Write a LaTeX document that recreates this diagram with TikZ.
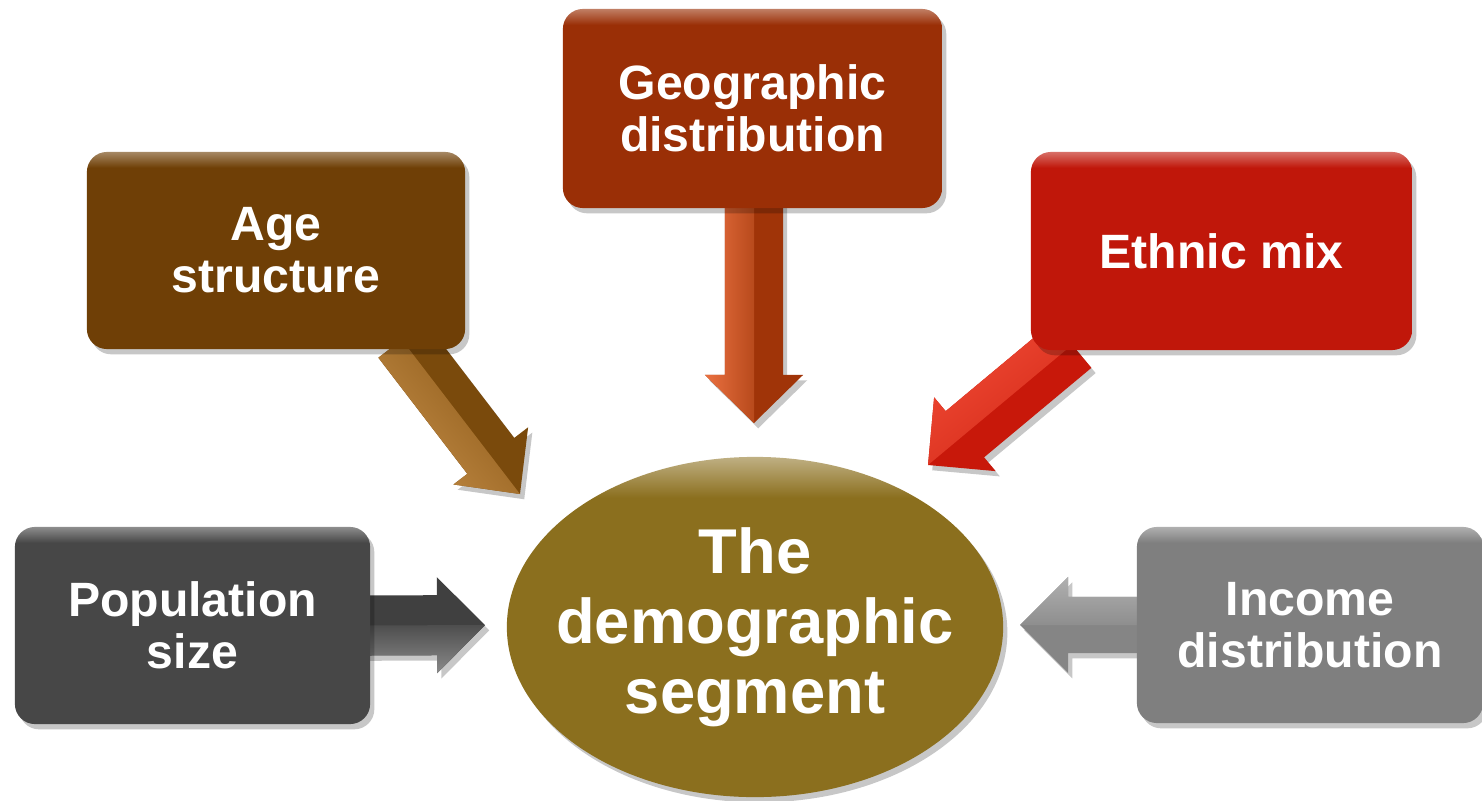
\documentclass[tikz,border=0pt]{standalone}
\usepackage{fontspec}
\setmainfont{Liberation Sans}
\usetikzlibrary{calc,shadows,shapes.geometric}
\pgfdeclarelayer{bg}
\pgfsetlayers{bg,main}

\definecolor{agec}{HTML}{6F3F06}
\definecolor{geoc}{HTML}{9A2F06}
\definecolor{ethc}{HTML}{C0170A}
\definecolor{popc}{HTML}{474747}
\definecolor{incc}{HTML}{7F7F7F}
\definecolor{elc}{HTML}{8B6F1E}
\colorlet{agehi}{agec!62!white}
\colorlet{geohi}{geoc!62!white}
\colorlet{ethhi}{ethc!62!white}
\colorlet{pophi}{popc!62!white}
\colorlet{inchi}{incc!62!white}
\colorlet{elhi}{elc!55!white}

\definecolor{agedark}{HTML}{7A4A0C}
\definecolor{agelight}{HTML}{C08A45}
\definecolor{agemid}{HTML}{8E5A18}
\definecolor{geodark}{HTML}{A03408}
\definecolor{geolight}{HTML}{EA7040}
\definecolor{geomid}{HTML}{B84A1C}
\definecolor{ethdark}{HTML}{C8180A}
\definecolor{ethlight}{HTML}{F04A35}
\definecolor{ethmid}{HTML}{D42A18}
\definecolor{popdark}{HTML}{404040}
\definecolor{poplight}{HTML}{8A8A8A}
\definecolor{popmid}{HTML}{4E4E4E}
\definecolor{incdark}{HTML}{858585}
\definecolor{inclight}{HTML}{B0B0B0}
\definecolor{incmid}{HTML}{8E8E8E}

\pgfdeclareverticalshading{agebev}{100bp}{color(0bp)=(agec); color(71bp)=(agec); color(75bp)=(agehi); color(100bp)=(agehi)}
\pgfdeclareverticalshading{geobev}{100bp}{color(0bp)=(geoc); color(71bp)=(geoc); color(75bp)=(geohi); color(100bp)=(geohi)}
\pgfdeclareverticalshading{ethbev}{100bp}{color(0bp)=(ethc); color(71bp)=(ethc); color(75bp)=(ethhi); color(100bp)=(ethhi)}
\pgfdeclareverticalshading{popbev}{100bp}{color(0bp)=(popc); color(71bp)=(popc); color(75bp)=(pophi); color(100bp)=(pophi)}
\pgfdeclareverticalshading{incbev}{100bp}{color(0bp)=(incc); color(71bp)=(incc); color(75bp)=(inchi); color(100bp)=(inchi)}
\pgfdeclareverticalshading{elbev}{100bp}{color(0bp)=(elc); color(69bp)=(elc); color(75bp)=(elhi); color(100bp)=(elhi)}

\tikzset{
  softshadow/.style={drop shadow={shadow xshift=1.2pt, shadow yshift=-1.5pt, opacity=0.22, fill=black}},
  box/.style={rounded corners=0.2cm, draw=none, inner sep=0pt,
    minimum width=3.78cm, minimum height=1.97cm, align=center, text=white,
    font=\fontsize{13.7}{14.8}\selectfont\bfseries, softshadow},
  bevel/.style={shade, shading=#1},
  centre/.style={ellipse, draw=none, inner xsep=-1.2cm, inner ysep=-0.5cm,
    minimum width=4.96cm, minimum height=3.40cm,
    align=center, text=white, font=\fontsize{18}{19.9}\selectfont\bfseries, softshadow,
    shade, shading=elbev},
}

% #1 start, #2 tip, #3 shaft half width, #4 head half width, #5 head length,
% #6 dark colour, #7 light colour, #8 mid colour, #9 shading angle
\newcommand\blockarr[9]{%
  \coordinate (bB) at ($(#2)!#5!(#1)$);
  \fill[#6, softshadow] ($(#1)!#3!90:(#2)$) -- ($(bB)!#3!90:(#2)$) -- ($(bB)!#4!90:(#2)$) -- (#2)
     -- ($(bB)!#4!-90:(#2)$) -- ($(bB)!#3!-90:(#2)$) -- ($(#1)!#3!-90:(#2)$) -- cycle;
  \shade[top color=#7, bottom color=#8, shading angle=#9] ($(#1)!#3!-90:(#2)$) -- ($(bB)!#3!-90:(#2)$)
     -- ($(bB)!#4!-90:(#2)$) -- (#2) -- (#1) -- cycle;
}

\begin{document}
\begin{tikzpicture}[x=0.01cm,y=-0.01cm]
\begin{pgfonlayer}{bg}
  \fill[white] (0,0) rectangle (1482,800);
\end{pgfonlayer}
\useasboundingbox (0,0) rectangle (1482,800);

\node[box, bevel=agebev] (age) at (276,250.5) {Age\\structure};
\node[box, bevel=geobev, minimum width=3.79cm, minimum height=1.99cm] (geo) at (752.5,108.5) {Geographic\\distribution};
\node[box, bevel=ethbev, minimum width=3.81cm, minimum height=1.98cm] (eth) at (1221.5,251) {Ethnic mix};
\node[box, bevel=popbev, minimum width=3.55cm] (pop) at (192.5,625.5) {Population\\size};
\node[box, bevel=incbev, minimum width=3.46cm, minimum height=1.96cm] (inc) at (1310,625) {Income\\distribution};
\node[centre] (dem) at (755,627) {The\\demographic\\segment};

\coordinate (ageS) at ($(age.south east)+(-64,-10)$);
\coordinate (ageT) at (520,494);
\coordinate (geoS) at ($(geo.south)+(1.5,-8)$);
\coordinate (geoT) at (754,423);
\coordinate (ethS) at ($(eth.south west)+(42,-6)$);
\coordinate (ethT) at (928,465);
\coordinate (popS) at ($(pop.east)+(-6,0)$);
\coordinate (popT) at (485,625);
\coordinate (incS) at ($(inc.west)+(6,0)$);
\coordinate (incT) at (1020,625);

\begin{pgfonlayer}{bg}
  \blockarr{ageS}{ageT}{0.295cm}{0.47cm}{0.48cm}{agedark}{agelight}{agemid}{129.6}
  \blockarr{geoS}{geoT}{0.29cm}{0.49cm}{0.48cm}{geodark}{geolight}{geomid}{90}
  \blockarr{ethS}{ethT}{0.30cm}{0.48cm}{0.48cm}{ethdark}{ethlight}{ethmid}{38.4}
  \blockarr{popS}{popT}{0.30cm}{0.48cm}{0.48cm}{popdark}{poplight}{popmid}{180}
  \blockarr{incS}{incT}{0.28cm}{0.48cm}{0.48cm}{incdark}{inclight}{incmid}{0}
\end{pgfonlayer}
\end{tikzpicture}
\end{document}
